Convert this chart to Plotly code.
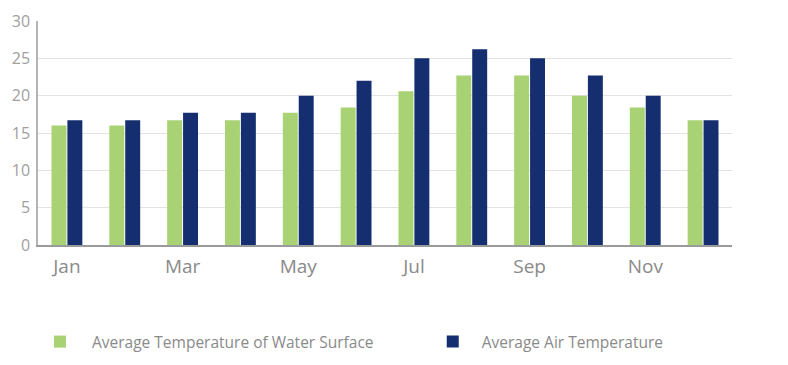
import plotly.graph_objects as go

months = ["Jan", "Feb", "Mar", "Apr", "May", "Jun", "Jul", "Aug", "Sep", "Oct", "Nov", "Dec"]
water_temp = [16, 16, 16.7, 16.7, 17.7, 18.4, 20.6, 22.7, 22.7, 20, 18.4, 16.7]
air_temp = [16.7, 16.7, 17.7, 17.7, 20, 22, 25, 26.2, 25, 22.7, 20, 16.7]
tick_months = ["Jan", "Mar", "May", "Jul", "Sep", "Nov"]
y_ticks = [0, 5, 10, 15, 20, 25, 30]

GREEN = "#a8d273"
NAVY = "#142e70"
GRAY = "#8a8a8a"

fig = go.Figure()
fig.add_trace(go.Bar(x=months, y=water_temp, name="Average Temperature of Water Surface",
                     marker=dict(color=GREEN, line=dict(width=0)), legend="legend"))
fig.add_trace(go.Bar(x=months, y=air_temp, name="Average Air Temperature",
                     marker=dict(color=NAVY, line=dict(width=0)), legend="legend2"))

legend_common = dict(orientation="h", xref="container", yref="container",
                     xanchor="left", yanchor="top", y=0.112,
                     font=dict(size=15.5, color=GRAY),
                     bgcolor="rgba(0,0,0,0)")

fig.update_layout(
    width=780, height=357,
    margin=dict(l=30, r=56, t=13, b=120, autoexpand=False),
    paper_bgcolor="white", plot_bgcolor="white",
    font=dict(family="Open Sans", color=GRAY),
    barmode="group", bargap=0.45, bargroupgap=0.06,
    showlegend=True,
    legend=dict(x=0.0256, itemwidth=54, **legend_common),
    legend2=dict(x=0.533, itemwidth=48, **legend_common),
    xaxis=dict(tickmode="array", tickvals=tick_months, ticktext=tick_months,
               tickfont=dict(size=19, color=GRAY), showgrid=False, automargin=False,
               showline=True, linecolor="#9a9a9a", linewidth=1.5, ticks="",
               ticklabelstandoff=3),
    yaxis=dict(range=[0, 30], tickvals=y_ticks, tickfont=dict(size=16, color="#a0a0a0"),
               showgrid=True, gridcolor="#e3e3e3", gridwidth=1, automargin=False,
               showline=True, linecolor="#b5b5b5", linewidth=1.5, ticks="",
               zeroline=False, ticklabelstandoff=3),
)

fig.write_html("out.html")
